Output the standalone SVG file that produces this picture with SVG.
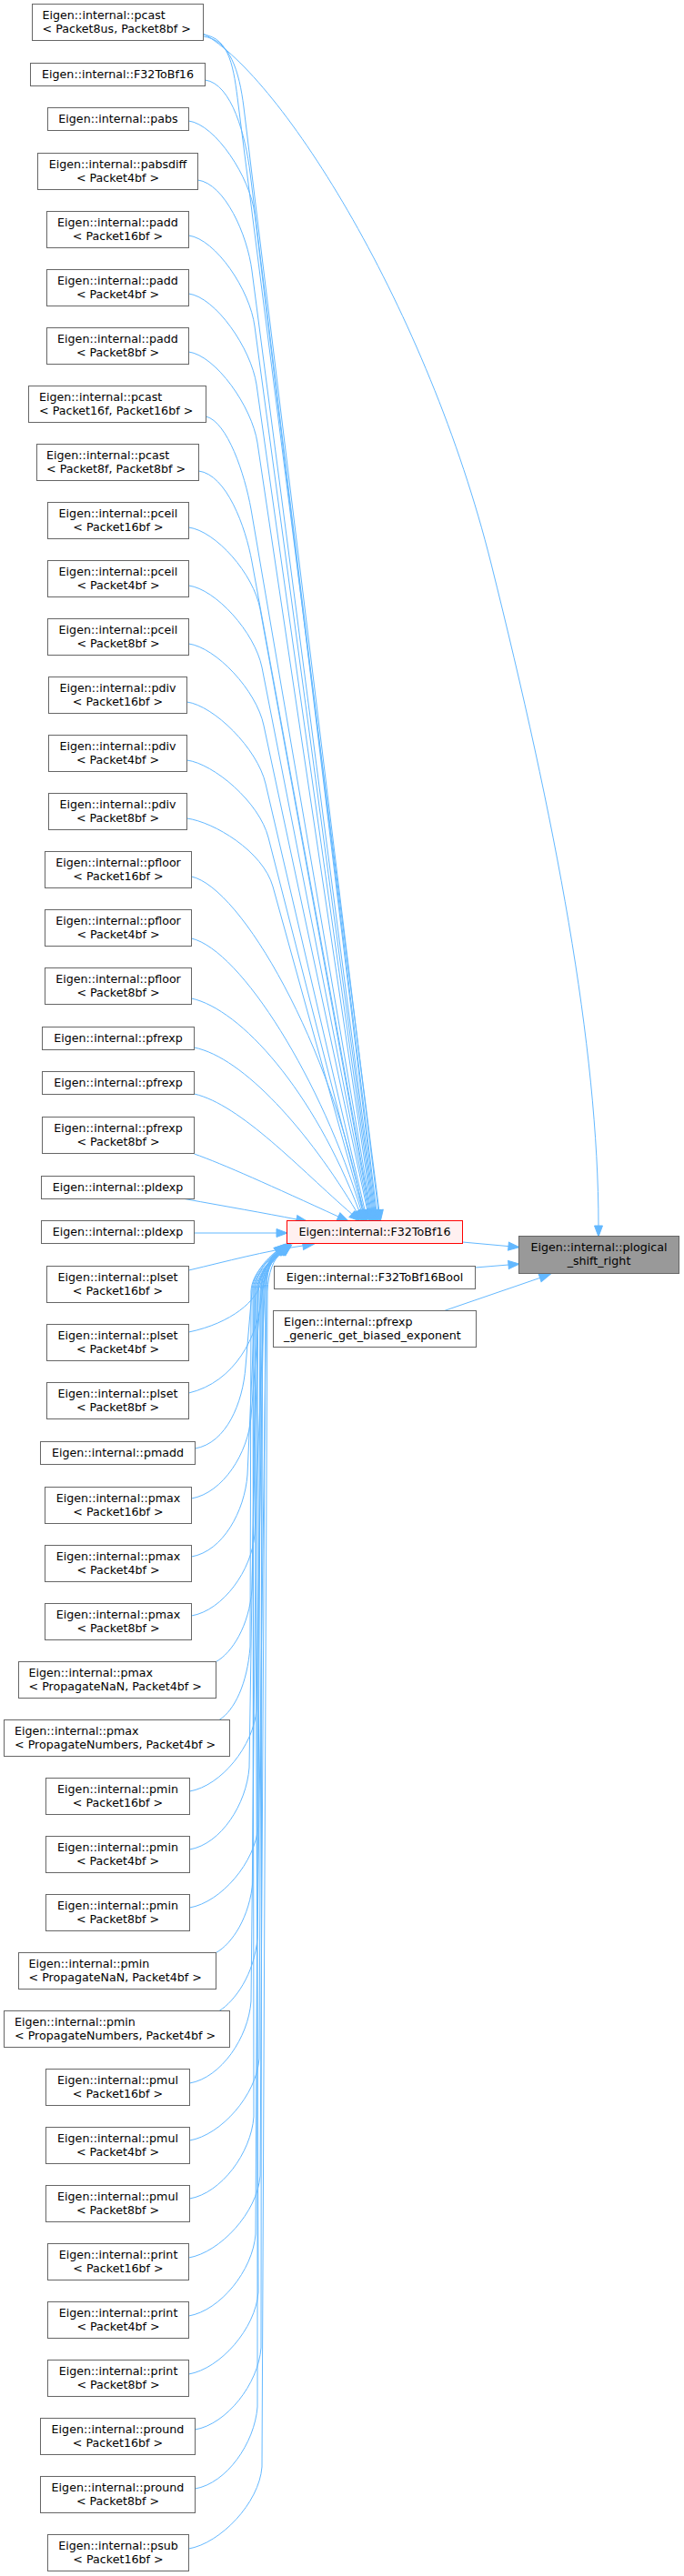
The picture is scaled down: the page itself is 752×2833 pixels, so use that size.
<svg xmlns="http://www.w3.org/2000/svg" width="752" height="2833" viewBox="0 0 752 2833">
<defs>
<marker id="ah" markerUnits="userSpaceOnUse" markerWidth="14" markerHeight="11" viewBox="-1 -1 14 11" refX="0" refY="4.5" orient="auto" overflow="visible"><path d="M0,0 L12,4.5 L0,9 Z" fill="#63b8ff" stroke="#63b8ff" stroke-width="1"/></marker>
</defs>
<style>
.n rect{fill:#ffffff;stroke:#666666;stroke-width:1}
#nRed rect{fill:#fff0f0;stroke:#ff0000}
#nPls rect{fill:#999999;stroke:#666666}
text{font-family:"DejaVu Sans","Liberation Sans",sans-serif;font-size:12.67px;fill:#000000}
.c{text-anchor:middle}
.e path{fill:none;stroke:#63b8ff;stroke-width:1;marker-end:url(#ah)}
</style>
<rect x="0" y="0" width="752" height="2833" fill="#ffffff"/>
<g id="edges" class="e">
<path d="M223.5,37 C310,85 470,340 540,620 S658,1150 658,1348"/>
<path d="M223.5,38 C253,42 257,75 262,115 L416.8,1331"/>
<path d="M223.5,40 C253,44 263,78 268,118 L415.8,1331"/>
<path d="M225.5,88 C255,92 270,150 275,190 L413.8,1331"/>
<path d="M207.5,133 C237,137 275,195 280,235 L412.8,1331"/>
<path d="M217.5,198 C247,202 272,258 277,298 L411.8,1331"/>
<path d="M207.5,259 C237,263 275,319 280,359 L410.8,1331"/>
<path d="M207.5,323 C237,327 276,383 282,423 L409.8,1331"/>
<path d="M207.5,387 C237,391 277,447 283,487 L408.8,1331"/>
<path d="M226.5,458 C250,464 269,521 276,560 L407.8,1331"/>
<path d="M218.5,518 C249,522 270,579 277,618 L406.8,1331"/>
<path d="M207.5,580 C237,584 279,631 286,670 L405.8,1331"/>
<path d="M207.5,644 C237,648 280,695 288,734 L404.8,1331"/>
<path d="M207.5,708 C237,712 282,759 290,798 L403.8,1331"/>
<path d="M205.5,772 C235,776 283,823 292,862 L401.2,1331.3"/>
<path d="M205.5,836 C235,840 285,882 295,921 L399.9,1331.4"/>
<path d="M205.5,900 C235,904 289,936 300,975 L398.6,1331.5"/>
<path d="M210.5,964 C265,976 365,1150 398.6,1331.2"/>
<path d="M210.5,1032 C265,1045 355,1190 397,1331.4"/>
<path d="M210.5,1098 C265,1110 345,1200 394.8,1331.7"/>
<path d="M213.5,1152 C268,1163 340,1245 392,1332.6"/>
<path d="M213.5,1203 C265,1215 330,1286 386.9,1335.2"/>
<path d="M213.5,1269 C245,1280 300,1305 372,1338"/>
<path d="M203,1318.5 C250,1327 290,1334 326,1341"/>
<path d="M213.5,1356 L304,1356"/>
<path d="M207.5,1397 C250,1387 290,1376 333,1370"/>
<path d="M207.5,1465 C255,1455 283,1430 287,1410 C289,1398 296,1384 306,1377"/>
<path d="M207.5,1532 C258,1520 284,1470 288,1425 C289,1405 297,1385 308,1376"/>
<path d="M214.5,1593 C249,1587 267,1543 270,1503 L277,1420 C278,1400 294,1384 304,1376"/>
<path d="M210.5,1648 C245,1642 273,1598 276,1558 L287,1420 C288,1400 297,1385 307,1377"/>
<path d="M210.5,1712 C245,1706 269,1662 272,1622 L281,1420 C282,1400 300,1384 310,1376"/>
<path d="M210.5,1777 C245,1771 277,1727 280,1687 L291,1420 C292,1400 296,1385 306,1377"/>
<path d="M237.5,1827.5 C255,1818 274,1788 277,1748 L284,1420 C285,1400 299,1384 309,1376"/>
<path d="M241,1891.5 C258,1881 272,1851 275,1811 L276,1420 C277,1400 295,1385 305,1377"/>
<path d="M208.5,1970 C243,1964 279,1920 282,1880 L290,1420 C291,1400 298,1384 308,1376"/>
<path d="M208.5,2034 C243,2028 271,1984 274,1944 L282,1420 C283,1400 301,1385 311,1377"/>
<path d="M208.5,2098 C243,2092 281,2048 284,2008 L287,1420 C288,1400 296,1384 306,1376"/>
<path d="M237.5,2147.5 C255,2138 275,2108 278,2068 L279,1420 C280,1400 299,1385 309,1377"/>
<path d="M241,2211.5 C258,2201 280,2171 283,2131 L293,1420 C294,1400 294,1384 304,1376"/>
<path d="M208.5,2291 C243,2285 273,2241 276,2201 L284,1420 C285,1400 297,1385 307,1377"/>
<path d="M208.5,2354 C243,2348 282,2304 285,2264 L289,1420 C290,1400 300,1384 310,1376"/>
<path d="M208.5,2418 C243,2412 276,2368 279,2328 L278,1420 C279,1400 296,1385 306,1377"/>
<path d="M207.5,2483 C242,2477 283,2433 286,2393 L292,1420 C293,1400 298,1384 308,1376"/>
<path d="M207.5,2547 C242,2541 278,2497 281,2457 L286,1420 C287,1400 301,1385 311,1377"/>
<path d="M207.5,2611 C242,2605 281,2561 284,2521 L280,1420 C281,1400 295,1384 305,1376"/>
<path d="M214.5,2672 C249,2666 284,2622 287,2582 L288,1420 C289,1400 299,1385 309,1377"/>
<path d="M214.5,2737 C249,2731 280,2687 283,2647 L283,1420 C284,1400 297,1384 307,1376"/>
<path d="M207.5,2803 C242,2797 285,2753 288,2713 L294,1420 C295,1400 300,1385 310,1377"/>
<path d="M508.5,1366 L559,1370.6"/>
<path d="M522.5,1394 L559,1391"/>
<path d="M487,1442 L593.6,1405.4"/>
</g>
<g id="n1" class="n"><rect x="35.5" y="4.5" width="188" height="40"/><text><tspan x="46.5" y="21">Eigen::internal::pcast</tspan><tspan x="46.5" y="35.5">&lt; Packet8us, Packet8bf &gt;</tspan></text></g>
<g id="n2" class="n"><rect x="33.5" y="69.5" width="192" height="25"/><text class="c" x="129.5" y="86">Eigen::internal::F32ToBf16</text></g>
<g id="n3" class="n"><rect x="52.5" y="118.5" width="155" height="25"/><text class="c" x="130" y="135">Eigen::internal::pabs</text></g>
<g id="n4" class="n"><rect x="41.5" y="168.5" width="176" height="40"/><text class="c"><tspan x="129.5" y="185">Eigen::internal::pabsdiff</tspan><tspan x="129.5" y="199.5">&lt; Packet4bf &gt;</tspan></text></g>
<g id="n5" class="n"><rect x="51.5" y="232.5" width="156" height="40"/><text class="c"><tspan x="129.5" y="249">Eigen::internal::padd</tspan><tspan x="129.5" y="263.5">&lt; Packet16bf &gt;</tspan></text></g>
<g id="n6" class="n"><rect x="51.5" y="296.5" width="156" height="40"/><text class="c"><tspan x="129.5" y="313">Eigen::internal::padd</tspan><tspan x="129.5" y="327.5">&lt; Packet4bf &gt;</tspan></text></g>
<g id="n7" class="n"><rect x="51.5" y="360.5" width="156" height="40"/><text class="c"><tspan x="129.5" y="377">Eigen::internal::padd</tspan><tspan x="129.5" y="391.5">&lt; Packet8bf &gt;</tspan></text></g>
<g id="n8" class="n"><rect x="31.5" y="424.5" width="195" height="40"/><text><tspan x="43" y="441">Eigen::internal::pcast</tspan><tspan x="43" y="455.5">&lt; Packet16f, Packet16bf &gt;</tspan></text></g>
<g id="n9" class="n"><rect x="40.5" y="488.5" width="178" height="40"/><text><tspan x="51" y="505">Eigen::internal::pcast</tspan><tspan x="51" y="519.5">&lt; Packet8f, Packet8bf &gt;</tspan></text></g>
<g id="n10" class="n"><rect x="52.5" y="552.5" width="155" height="40"/><text class="c"><tspan x="130" y="569">Eigen::internal::pceil</tspan><tspan x="130" y="583.5">&lt; Packet16bf &gt;</tspan></text></g>
<g id="n11" class="n"><rect x="52.5" y="616.5" width="155" height="40"/><text class="c"><tspan x="130" y="633">Eigen::internal::pceil</tspan><tspan x="130" y="647.5">&lt; Packet4bf &gt;</tspan></text></g>
<g id="n12" class="n"><rect x="52.5" y="680.5" width="155" height="40"/><text class="c"><tspan x="130" y="697">Eigen::internal::pceil</tspan><tspan x="130" y="711.5">&lt; Packet8bf &gt;</tspan></text></g>
<g id="n13" class="n"><rect x="53.5" y="744.5" width="152" height="40"/><text class="c"><tspan x="129.5" y="761">Eigen::internal::pdiv</tspan><tspan x="129.5" y="775.5">&lt; Packet16bf &gt;</tspan></text></g>
<g id="n14" class="n"><rect x="53.5" y="808.5" width="152" height="40"/><text class="c"><tspan x="129.5" y="825">Eigen::internal::pdiv</tspan><tspan x="129.5" y="839.5">&lt; Packet4bf &gt;</tspan></text></g>
<g id="n15" class="n"><rect x="53.5" y="872.5" width="152" height="40"/><text class="c"><tspan x="129.5" y="889">Eigen::internal::pdiv</tspan><tspan x="129.5" y="903.5">&lt; Packet8bf &gt;</tspan></text></g>
<g id="n16" class="n"><rect x="49.5" y="936.5" width="161" height="40"/><text class="c"><tspan x="130" y="953">Eigen::internal::pfloor</tspan><tspan x="130" y="967.5">&lt; Packet16bf &gt;</tspan></text></g>
<g id="n17" class="n"><rect x="49.5" y="1000.5" width="161" height="40"/><text class="c"><tspan x="130" y="1017">Eigen::internal::pfloor</tspan><tspan x="130" y="1031.5">&lt; Packet4bf &gt;</tspan></text></g>
<g id="n18" class="n"><rect x="49.5" y="1064.5" width="161" height="40"/><text class="c"><tspan x="130" y="1081">Eigen::internal::pfloor</tspan><tspan x="130" y="1095.5">&lt; Packet8bf &gt;</tspan></text></g>
<g id="n19" class="n"><rect x="46.5" y="1129.5" width="167" height="25"/><text class="c" x="130" y="1146">Eigen::internal::pfrexp</text></g>
<g id="n20" class="n"><rect x="46.5" y="1178.5" width="167" height="25"/><text class="c" x="130" y="1195">Eigen::internal::pfrexp</text></g>
<g id="n21" class="n"><rect x="46.5" y="1228.5" width="167" height="40"/><text class="c"><tspan x="130" y="1245">Eigen::internal::pfrexp</tspan><tspan x="130" y="1259.5">&lt; Packet8bf &gt;</tspan></text></g>
<g id="n22" class="n"><rect x="45.5" y="1293.5" width="168" height="25"/><text class="c" x="129.5" y="1310">Eigen::internal::pldexp</text></g>
<g id="n23" class="n"><rect x="45.5" y="1342.5" width="168" height="25"/><text class="c" x="129.5" y="1359">Eigen::internal::pldexp</text></g>
<g id="n24" class="n"><rect x="51.5" y="1392.5" width="156" height="40"/><text class="c"><tspan x="129.5" y="1409">Eigen::internal::plset</tspan><tspan x="129.5" y="1423.5">&lt; Packet16bf &gt;</tspan></text></g>
<g id="n25" class="n"><rect x="51.5" y="1456.5" width="156" height="40"/><text class="c"><tspan x="129.5" y="1473">Eigen::internal::plset</tspan><tspan x="129.5" y="1487.5">&lt; Packet4bf &gt;</tspan></text></g>
<g id="n26" class="n"><rect x="51.5" y="1520.5" width="156" height="40"/><text class="c"><tspan x="129.5" y="1537">Eigen::internal::plset</tspan><tspan x="129.5" y="1551.5">&lt; Packet8bf &gt;</tspan></text></g>
<g id="n27" class="n"><rect x="44.5" y="1585.5" width="170" height="25"/><text class="c" x="129.5" y="1602">Eigen::internal::pmadd</text></g>
<g id="n28" class="n"><rect x="49.5" y="1635.5" width="161" height="40"/><text class="c"><tspan x="130" y="1652">Eigen::internal::pmax</tspan><tspan x="130" y="1666.5">&lt; Packet16bf &gt;</tspan></text></g>
<g id="n29" class="n"><rect x="49.5" y="1699.5" width="161" height="40"/><text class="c"><tspan x="130" y="1716">Eigen::internal::pmax</tspan><tspan x="130" y="1730.5">&lt; Packet4bf &gt;</tspan></text></g>
<g id="n30" class="n"><rect x="49.5" y="1763.5" width="161" height="40"/><text class="c"><tspan x="130" y="1780">Eigen::internal::pmax</tspan><tspan x="130" y="1794.5">&lt; Packet8bf &gt;</tspan></text></g>
<g id="n31" class="n"><rect x="20.5" y="1827.5" width="217" height="40"/><text><tspan x="31.5" y="1844">Eigen::internal::pmax</tspan><tspan x="31.5" y="1858.5">&lt; PropagateNaN, Packet4bf &gt;</tspan></text></g>
<g id="n32" class="n"><rect x="4.5" y="1891.5" width="248" height="40"/><text><tspan x="16" y="1908">Eigen::internal::pmax</tspan><tspan x="16" y="1922.5">&lt; PropagateNumbers, Packet4bf &gt;</tspan></text></g>
<g id="n33" class="n"><rect x="50.5" y="1955.5" width="158" height="40"/><text class="c"><tspan x="129.5" y="1972">Eigen::internal::pmin</tspan><tspan x="129.5" y="1986.5">&lt; Packet16bf &gt;</tspan></text></g>
<g id="n34" class="n"><rect x="50.5" y="2019.5" width="158" height="40"/><text class="c"><tspan x="129.5" y="2036">Eigen::internal::pmin</tspan><tspan x="129.5" y="2050.5">&lt; Packet4bf &gt;</tspan></text></g>
<g id="n35" class="n"><rect x="50.5" y="2083.5" width="158" height="40"/><text class="c"><tspan x="129.5" y="2100">Eigen::internal::pmin</tspan><tspan x="129.5" y="2114.5">&lt; Packet8bf &gt;</tspan></text></g>
<g id="n36" class="n"><rect x="20.5" y="2147.5" width="217" height="40"/><text><tspan x="31.5" y="2164">Eigen::internal::pmin</tspan><tspan x="31.5" y="2178.5">&lt; PropagateNaN, Packet4bf &gt;</tspan></text></g>
<g id="n37" class="n"><rect x="4.5" y="2211.5" width="248" height="40"/><text><tspan x="16" y="2228">Eigen::internal::pmin</tspan><tspan x="16" y="2242.5">&lt; PropagateNumbers, Packet4bf &gt;</tspan></text></g>
<g id="n38" class="n"><rect x="50.5" y="2275.5" width="158" height="40"/><text class="c"><tspan x="129.5" y="2292">Eigen::internal::pmul</tspan><tspan x="129.5" y="2306.5">&lt; Packet16bf &gt;</tspan></text></g>
<g id="n39" class="n"><rect x="50.5" y="2339.5" width="158" height="40"/><text class="c"><tspan x="129.5" y="2356">Eigen::internal::pmul</tspan><tspan x="129.5" y="2370.5">&lt; Packet4bf &gt;</tspan></text></g>
<g id="n40" class="n"><rect x="50.5" y="2403.5" width="158" height="40"/><text class="c"><tspan x="129.5" y="2420">Eigen::internal::pmul</tspan><tspan x="129.5" y="2434.5">&lt; Packet8bf &gt;</tspan></text></g>
<g id="n41" class="n"><rect x="52.5" y="2467.5" width="155" height="40"/><text class="c"><tspan x="130" y="2484">Eigen::internal::print</tspan><tspan x="130" y="2498.5">&lt; Packet16bf &gt;</tspan></text></g>
<g id="n42" class="n"><rect x="52.5" y="2531.5" width="155" height="40"/><text class="c"><tspan x="130" y="2548">Eigen::internal::print</tspan><tspan x="130" y="2562.5">&lt; Packet4bf &gt;</tspan></text></g>
<g id="n43" class="n"><rect x="52.5" y="2595.5" width="155" height="40"/><text class="c"><tspan x="130" y="2612">Eigen::internal::print</tspan><tspan x="130" y="2626.5">&lt; Packet8bf &gt;</tspan></text></g>
<g id="n44" class="n"><rect x="44.5" y="2659.5" width="170" height="40"/><text class="c"><tspan x="129.5" y="2676">Eigen::internal::pround</tspan><tspan x="129.5" y="2690.5">&lt; Packet16bf &gt;</tspan></text></g>
<g id="n45" class="n"><rect x="44.5" y="2723.5" width="170" height="40"/><text class="c"><tspan x="129.5" y="2740">Eigen::internal::pround</tspan><tspan x="129.5" y="2754.5">&lt; Packet8bf &gt;</tspan></text></g>
<g id="n46" class="n"><rect x="52.5" y="2787.5" width="155" height="40"/><text class="c"><tspan x="130" y="2804">Eigen::internal::psub</tspan><tspan x="130" y="2818.5">&lt; Packet16bf &gt;</tspan></text></g>
<g id="nRed" class="n"><rect x="315.5" y="1342.5" width="193" height="25"/><text class="c" x="412" y="1359">Eigen::internal::F32ToBf16</text></g>
<g id="nBool" class="n"><rect x="301.5" y="1392.5" width="221" height="25"/><text class="c" x="412" y="1409">Eigen::internal::F32ToBf16Bool</text></g>
<g id="nGen" class="n"><rect x="300.5" y="1441.5" width="223" height="40"/><text><tspan x="312" y="1458">Eigen::internal::pfrexp</tspan><tspan x="312" y="1472.5">_generic_get_biased_exponent</tspan></text></g>
<g id="nPls" class="n"><rect x="570.5" y="1359.5" width="176" height="41"/><text class="c"><tspan x="658.5" y="1376">Eigen::internal::plogical</tspan><tspan x="658.5" y="1390.5">_shift_right</tspan></text></g>
</svg>
